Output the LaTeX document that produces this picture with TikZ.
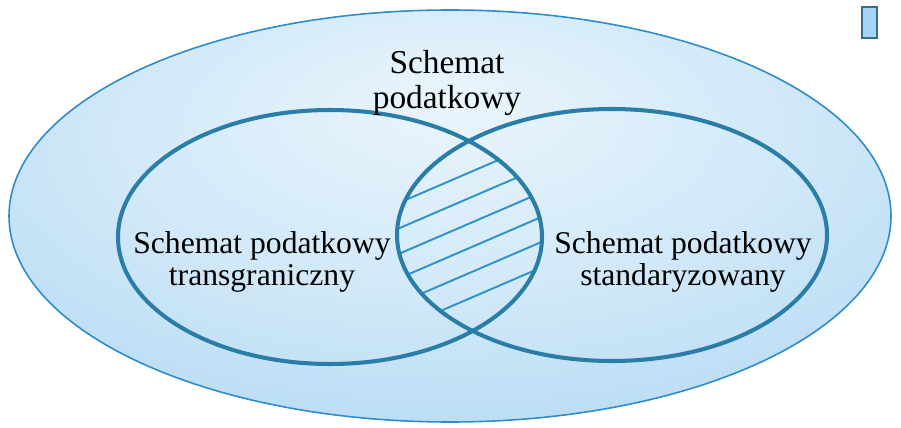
\documentclass[tikz,border=0pt]{standalone}
\usepackage{fontspec}
\setmainfont{Liberation Serif}
\usetikzlibrary{positioning}
\definecolor{ringblue}{HTML}{2A7DA6}
\definecolor{edgeblue}{HTML}{2E8CCB}
\definecolor{hatchblue}{HTML}{2F93C6}
\definecolor{boxfill}{HTML}{A3D4F3}
\definecolor{boxline}{HTML}{3C6C8A}
\definecolor{ovalcore}{HTML}{EAF5FC}
\definecolor{ovalmid}{HTML}{D0E8F8}
\definecolor{ovalrim}{HTML}{A9D3F2}
\definecolor{ovaldeep}{HTML}{8CC3EC}
\pgfdeclareradialshading{ovalglow}{\pgfpoint{0bp}{14bp}}{%
  color(0bp)=(ovalcore); color(20bp)=(ovalmid); color(45bp)=(ovalrim); color(66bp)=(ovaldeep)}
\begin{document}
\begin{tikzpicture}[
        x=0.02cm, y=-0.02cm,
        set/.style={draw=ringblue, line width=2.3pt},
        hatch/.style={draw=hatchblue, line width=1.1pt},
        every node/.style={align=center, text=black, font=\fontsize{18}{18.5}\selectfont}
    ]
        \useasboundingbox (0,0) rectangle (901,428);
        % outer oval
        \shade[shading=ovalglow] (450,216) ellipse [x radius=441, y radius=206];
        \draw[edgeblue, line width=0.9pt] (450,216) ellipse [x radius=441, y radius=206];
        % hatched overlap
        \begin{scope}
            \clip (330,237) ellipse [x radius=212, y radius=127];
            \clip (612,235) ellipse [x radius=215, y radius=126];
            \foreach \y in {198,223.5,249,273.5,298.5,324}
                \draw[hatch] (380,\y+13) -- (560,\y-64.5);
        \end{scope}
        \draw[set] (330,237) ellipse [x radius=212, y radius=127];
        \draw[set] (612,235) ellipse [x radius=215, y radius=126];
        % small marker
        \draw[boxline, fill=boxfill, line width=1pt] (862,7) rectangle (877,38);
        % labels
        \node[font=\fontsize{19}{19.5}\selectfont] (top) at (447,83) {Schemat\\podatkowy};
        \node (left) at (262,262) {Schemat podatkowy\\transgraniczny};
        \node (right) at (683,262) {Schemat podatkowy\\standaryzowany};
    \end{tikzpicture}
\end{document}
